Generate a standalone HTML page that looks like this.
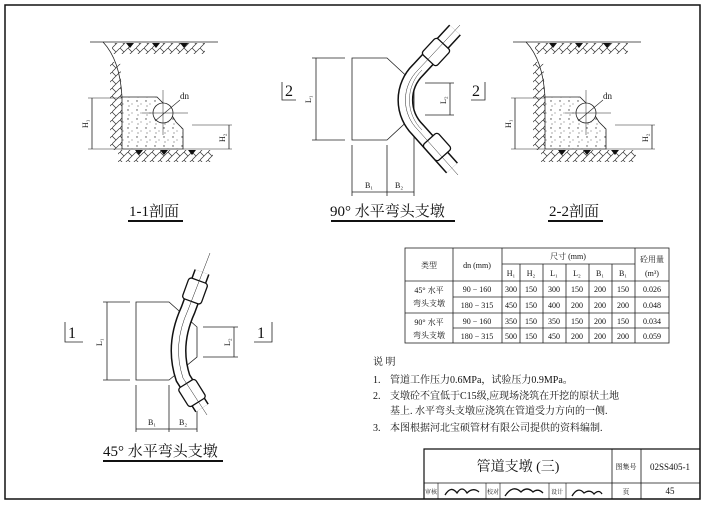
<!DOCTYPE html>
<html><head><meta charset="utf-8"><style>
html,body{margin:0;padding:0;background:#fff;}
svg{display:block;}
text{font-family:"Liberation Serif","Noto Serif CJK SC","Noto Sans CJK SC",serif;fill:#111;}
</style></head><body>
<svg width="705" height="507" viewBox="0 0 705 507" xmlns="http://www.w3.org/2000/svg">
<defs>
<pattern id="hat" width="8" height="8" patternUnits="userSpaceOnUse">
<path d="M0,8 L8,0 M0,0 L4,4" stroke="#333" stroke-width="0.7"/>
</pattern>
<pattern id="dots" width="9" height="9" patternUnits="userSpaceOnUse">
<circle cx="2" cy="2" r="0.7" fill="#444"/><circle cx="6" cy="5" r="0.5" fill="#444"/><circle cx="3" cy="7" r="0.6" fill="#666"/>
</pattern>
<g id="sec">
<line x1="90" y1="42" x2="218" y2="42" stroke="#222" stroke-width="0.8"/>
<path d="M103,42 Q120,60 122,97" fill="none" stroke="#222" stroke-width="0.8"/>
<rect x="112" y="43" width="93" height="11" fill="url(#hat)"/>
<path d="M110,62 L120,62 L122,97 L122,150 L110,150 Z" fill="url(#hat)"/>
<rect x="118" y="150" width="95" height="12" fill="url(#hat)"/>
<path d="M135,150 l4,5 l4,-5z M160,150 l4,5 l4,-5z M188,150 l4,5 l4,-5z M126,43 l4,5 l4,-5z M152,43 l4,5 l4,-5z M180,43 l4,5 l4,-5z" fill="#111"/>
<path d="M122,97 L157,97 L166,106 L176,122 L183,129 L183,149 L122,149 Z" fill="url(#dots)" stroke="#222" stroke-width="0.8"/>
<circle cx="163" cy="113" r="10" fill="#fff" stroke="#222" stroke-width="0.8"/>
<line x1="163" y1="90" x2="163" y2="135" stroke="#222" stroke-width="0.5"/>
<line x1="142" y1="113" x2="188" y2="113" stroke="#222" stroke-width="0.5"/>
<line x1="155" y1="121" x2="180" y2="100" stroke="#222" stroke-width="0.6"/>
<text x="180" y="99" font-size="9">dn</text>
<line x1="88" y1="98" x2="122" y2="98" stroke="#222" stroke-width="0.6"/>
<line x1="88" y1="149" x2="122" y2="149" stroke="#222" stroke-width="0.6"/>
<line x1="92" y1="98" x2="92" y2="149" stroke="#222" stroke-width="0.8"/>
<text x="88" y="128" font-size="8" transform="rotate(-90 88 128)">H₁</text>
<line x1="192" y1="125" x2="232" y2="125" stroke="#222" stroke-width="0.6"/>
<line x1="183" y1="149" x2="232" y2="149" stroke="#222" stroke-width="0.6"/>
<line x1="229" y1="125" x2="229" y2="149" stroke="#222" stroke-width="0.8"/>
<text x="225" y="142" font-size="8" transform="rotate(-90 225 142)">H₂</text>
</g>
</defs>
<rect x="5" y="5" width="695" height="494" fill="none" stroke="#111" stroke-width="1.5"/>

<use href="#sec"/>
<text x="129" y="216" font-size="15">1-1剖面</text>
<line x1="128" y1="221" x2="183" y2="221" stroke="#111" stroke-width="2"/>
<use href="#sec" transform="translate(423,0)"/>
<text x="549" y="216" font-size="15">2-2剖面</text>
<line x1="548" y1="221" x2="603" y2="221" stroke="#111" stroke-width="2"/>

<!-- 90 elbow -->
<g stroke="#222" fill="none" stroke-width="0.8">
<path d="M352,58 L387,58 L414,83 L414,115 L387,140 L352,140 Z" fill="#fff"/>
<line x1="312" y1="58" x2="345" y2="58"/><line x1="312" y1="140" x2="345" y2="140"/><line x1="316" y1="58" x2="316" y2="140"/>
<line x1="425" y1="83" x2="454" y2="83"/><line x1="425" y1="115" x2="454" y2="115"/><line x1="450" y1="83" x2="450" y2="115"/>
<line x1="352" y1="145" x2="352" y2="196"/><line x1="387" y1="145" x2="387" y2="196"/><line x1="414" y1="120" x2="414" y2="196"/>
<line x1="352" y1="192" x2="414" y2="192"/>
<path d="M282,82 L282,100 L296,100"/><path d="M485,82 L485,100 L471,100"/>
</g>
<g fill="none">
<path d="M455,30 L418,70 A42,42 0 0 0 418,130 L452,168" stroke="#111" stroke-width="16"/>
<path d="M455,30 L418,70 A42,42 0 0 0 418,130 L452,168" stroke="#fff" stroke-width="13"/>
<rect x="-11" y="-10" width="22" height="20" rx="3" fill="#fff" stroke="#111" stroke-width="1.3" transform="translate(436,52) rotate(133)"/>
<rect x="-11" y="-10" width="22" height="20" rx="3" fill="#fff" stroke="#111" stroke-width="1.3" transform="translate(437,147) rotate(48)"/>
<path d="M422,70 A42,42 0 0 0 422,130" stroke="#444" stroke-width="0.5"/>
<path d="M460,25 L418,70 A42,42 0 0 0 418,130 L458,175" stroke="#222" stroke-width="0.5"/>
</g>
<text x="311" y="103" font-size="8" transform="rotate(-90 311 103)">L₁</text>
<text x="446" y="104" font-size="8" transform="rotate(-90 446 104)">L₂</text>
<text x="365" y="188" font-size="8">B₁</text><text x="395" y="188" font-size="8">B₂</text>
<text x="285" y="96" font-size="16">2</text><text x="472" y="96" font-size="16">2</text>
<text x="330" y="216" font-size="15">90° 水平弯头支墩</text>
<line x1="331" y1="221" x2="455" y2="221" stroke="#111" stroke-width="2"/>

<!-- 45 elbow -->
<g stroke="#222" fill="none" stroke-width="0.8">
<path d="M136,302 L169,302 L197,327 L197,357 L169,380 L136,380 Z" fill="#fff"/>
<line x1="103" y1="302" x2="130" y2="302"/><line x1="103" y1="380" x2="130" y2="380"/><line x1="107" y1="302" x2="107" y2="380"/>
<line x1="203" y1="327" x2="238" y2="327"/><line x1="203" y1="357" x2="238" y2="357"/><line x1="234" y1="327" x2="234" y2="357"/>
<line x1="136" y1="385" x2="136" y2="432"/><line x1="169" y1="385" x2="169" y2="432"/><line x1="197" y1="390" x2="197" y2="432"/>
<line x1="136" y1="429" x2="197" y2="429"/>
<path d="M65,322 L65,342 L83,342"/><path d="M272,322 L272,342 L254,342"/>
</g>
<g fill="none">
<path d="M202,272 L188,310 Q172,345 183,378 L202,408" stroke="#111" stroke-width="16"/>
<path d="M202,272 L188,310 Q172,345 183,378 L202,408" stroke="#fff" stroke-width="13"/>
<rect x="-11" y="-10" width="22" height="20" rx="3" fill="#fff" stroke="#111" stroke-width="1.3" transform="translate(195,291) rotate(110)"/>
<rect x="-11" y="-10" width="22" height="20" rx="3" fill="#fff" stroke="#111" stroke-width="1.3" transform="translate(192,393) rotate(58)"/>
<path d="M210,253 L188,310 Q172,345 183,378 L207,415" stroke="#222" stroke-width="0.5"/>
</g>
<text x="102" y="346" font-size="8" transform="rotate(-90 102 346)">L₁</text>
<text x="230" y="346" font-size="8" transform="rotate(-90 230 346)">L₂</text>
<text x="148" y="425" font-size="8">B₁</text><text x="179" y="425" font-size="8">B₂</text>
<text x="68" y="338" font-size="16">1</text><text x="257" y="338" font-size="16">1</text>
<text x="103" y="456" font-size="15">45° 水平弯头支墩</text>
<line x1="103" y1="461" x2="223" y2="461" stroke="#111" stroke-width="2"/>

<!-- table -->
<g stroke="#222" stroke-width="0.8" fill="none">
<rect x="405" y="248" width="264" height="95"/>
<line x1="453" y1="248" x2="453" y2="343"/><line x1="502" y1="248" x2="502" y2="343"/>
<line x1="635" y1="248" x2="635" y2="343"/>
<line x1="520" y1="264" x2="520" y2="343"/><line x1="543" y1="264" x2="543" y2="343"/><line x1="566" y1="264" x2="566" y2="343"/><line x1="589" y1="264" x2="589" y2="343"/><line x1="612" y1="264" x2="612" y2="343"/>
<line x1="502" y1="264" x2="635" y2="264"/>
<line x1="405" y1="281" x2="669" y2="281"/><line x1="405" y1="313" x2="669" y2="313"/>
<line x1="453" y1="297" x2="669" y2="297"/><line x1="453" y1="328" x2="669" y2="328"/>
</g>
<g font-size="8" text-anchor="middle">
<text x="429" y="268">类型</text><text x="477" y="268">dn (mm)</text><text x="568" y="259">尺寸 (mm)</text>
<text x="652" y="262">砼用量</text><text x="652" y="276">(m³)</text>
<text x="511" y="276">H₁</text><text x="531" y="276">H₂</text><text x="554" y="276">L₁</text><text x="577" y="276">L₂</text><text x="600" y="276">B₁</text><text x="623" y="276">B₁</text>
<text x="429" y="293">45° 水平</text><text x="429" y="306">弯头支墩</text>
<text x="429" y="325">90° 水平</text><text x="429" y="338">弯头支墩</text>
<text x="477" y="292">90 − 160</text><text x="477" y="308">180 − 315</text><text x="477" y="324">90 − 160</text><text x="477" y="339">180 − 315</text>
<text x="511" y="292">300</text><text x="531" y="292">150</text><text x="554" y="292">300</text><text x="577" y="292">150</text><text x="600" y="292">200</text><text x="623" y="292">150</text><text x="652" y="292">0.026</text>
<text x="511" y="308">450</text><text x="531" y="308">150</text><text x="554" y="308">400</text><text x="577" y="308">200</text><text x="600" y="308">200</text><text x="623" y="308">200</text><text x="652" y="308">0.048</text>
<text x="511" y="324">350</text><text x="531" y="324">150</text><text x="554" y="324">350</text><text x="577" y="324">150</text><text x="600" y="324">200</text><text x="623" y="324">150</text><text x="652" y="324">0.034</text>
<text x="511" y="339">500</text><text x="531" y="339">150</text><text x="554" y="339">450</text><text x="577" y="339">200</text><text x="600" y="339">200</text><text x="623" y="339">200</text><text x="652" y="339">0.059</text>
</g>

<!-- notes -->
<g font-size="10">
<text x="373" y="365">说  明</text>
<text x="373" y="383">1.</text><text x="390" y="383">管道工作压力0.6MPa，试验压力0.9MPa。</text>
<text x="373" y="399">2.</text><text x="390" y="399">支墩砼不宜低于C15级,应现场浇筑在开挖的原状土地</text>
<text x="390" y="414">基上. 水平弯头支墩应浇筑在管道受力方向的一侧.</text>
<text x="373" y="431">3.</text><text x="390" y="431">本图根据河北宝硕管材有限公司提供的资料编制.</text>
</g>

<!-- title block -->
<g stroke="#111" fill="none">
<path d="M424,499 L424,449 L700,449" stroke-width="1.2"/>
<line x1="424" y1="483" x2="700" y2="483" stroke-width="0.8"/>
<line x1="612" y1="449" x2="612" y2="499" stroke-width="0.8"/>
<line x1="641" y1="449" x2="641" y2="499" stroke-width="0.8"/>
<line x1="438" y1="483" x2="438" y2="499" stroke-width="0.6"/>
<line x1="486" y1="483" x2="486" y2="499" stroke-width="0.6"/>
<line x1="500" y1="483" x2="500" y2="499" stroke-width="0.6"/>
<line x1="549" y1="483" x2="549" y2="499" stroke-width="0.6"/>
<line x1="566" y1="483" x2="566" y2="499" stroke-width="0.6"/>
<path d="M445,495 q6,-10 12,-2 q5,-8 10,0 q6,-6 12,-1" stroke-width="1.3"/>
<path d="M505,496 q8,-12 16,-4 q6,-6 12,0 q5,-4 10,1" stroke-width="1.3"/>
<path d="M572,496 q6,-10 12,-3 q6,-4 10,1 q5,-5 8,0" stroke-width="1.3"/>
</g>
<text x="518" y="471" font-size="14" text-anchor="middle">管道支墩 (三)</text>
<text x="626" y="469" font-size="7" text-anchor="middle">图集号</text>
<text x="670" y="470" font-size="9" text-anchor="middle">02SS405-1</text>
<text x="431" y="494" font-size="6" text-anchor="middle">审核</text>
<text x="493" y="494" font-size="6" text-anchor="middle">校对</text>
<text x="557" y="494" font-size="6" text-anchor="middle">设计</text>
<text x="626" y="494" font-size="7" text-anchor="middle">页</text>
<text x="670" y="494" font-size="9" text-anchor="middle">45</text>
</svg>
</body></html>
